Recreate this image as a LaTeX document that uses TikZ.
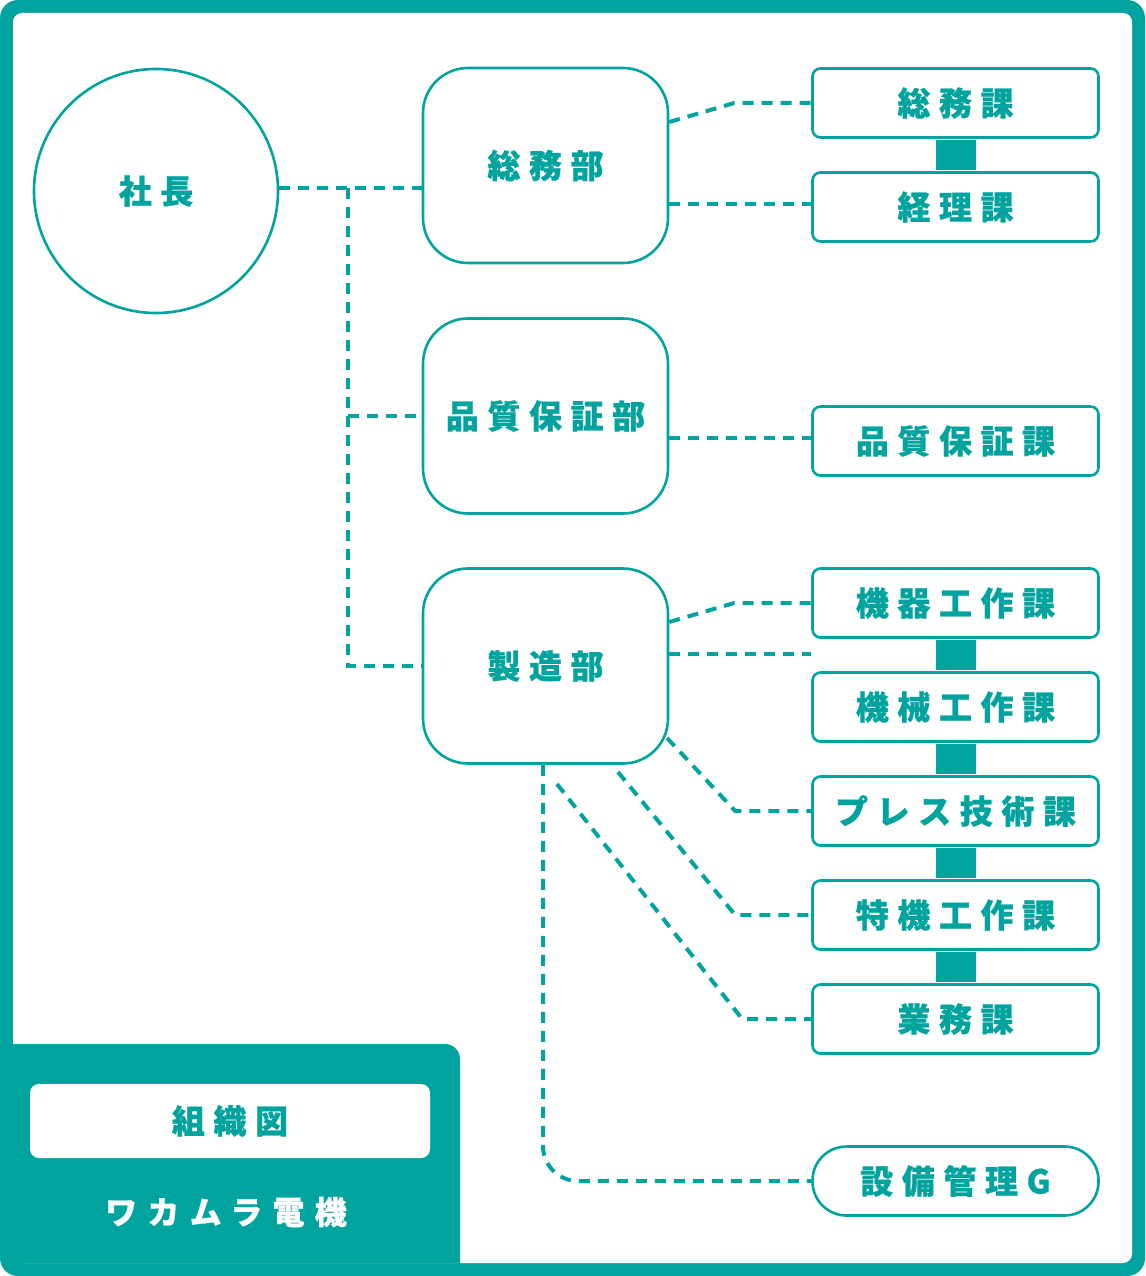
\documentclass[tikz,border=0pt]{standalone}
\usepackage{fontspec}
\newfontfamily\jp[LetterSpace=26, BoldFeatures={FakeBold=0.6}]{Noto Sans CJK JP}
\newfontfamily\jpw[LetterSpace=32, BoldFeatures={FakeBold=0.6}]{Noto Sans CJK JP}
\definecolor{tealc}{HTML}{00A39D}
\begin{document}
\begin{tikzpicture}[x=1pt,y=-1pt,
  lbl/.style={font=\jp\bfseries\fontsize{33}{33}\selectfont, text=tealc},
  circ/.style={circle, draw=tealc, line width=2.6pt, minimum size=244pt, fill=white, inner sep=0pt, lbl},
  dept/.style={rectangle, rounded corners=45pt, draw=tealc, line width=2.6pt, minimum width=245pt, minimum height=195pt, fill=white, inner sep=0pt, lbl},
  sect/.style={rectangle, rounded corners=8pt, draw=tealc, line width=2.6pt, minimum width=286pt, minimum height=69pt, fill=white, inner sep=0pt, lbl},
  pill/.style={rectangle, rounded corners=34pt, draw=tealc, line width=2.6pt, minimum width=286pt, minimum height=69pt, fill=white, inner sep=0pt, lbl},
  link/.style={draw=tealc, line width=4pt, dash pattern=on 11pt off 8pt},
  bar/.style={fill=tealc}
]
\useasboundingbox (0,0) rectangle (1145,1276);
% frame
\fill[tealc, rounded corners=18pt] (0,0) rectangle (1145,1276);
\fill[white, rounded corners=9pt] (13,13) rectangle (1132,1263);
% bottom-left tab
\fill[tealc] (13,1044) -- (445,1044) .. controls (453.3,1044) and (460,1050.7) .. (460,1059) -- (460,1263) -- (13,1263) -- cycle;
\node[fill=white, rounded corners=9pt, minimum width=400pt, minimum height=74pt, inner sep=0pt, lbl] (title) at (230,1121) {組織図};
\node[font=\jpw\bfseries\fontsize{32}{32}\selectfont, text=white] (company) at (226,1212) {ワカムラ電機};

\coordinate (t1) at (348,188);

% nodes
\node[circ] (pres) at (156,191) {社長};
\node[dept] (somu) at (545.5,165.5) {総務部};
\node[dept] (hin) at (545.5,416) {品質保証部};
\node[dept] (seizo) at (545.5,666) {製造部};

\node[sect] (somuka) at (955.5,103) {総務課};
\node[sect] (keiri) at (955.5,207) {経理課};
\node[sect] (hinka) at (955.5,441) {品質保証課};
\node[sect] (kiki) at (955.5,603) {機器工作課};
\node[sect] (kikai) at (955.5,707) {機械工作課};
\node[sect] (press) at (955.5,811) {プレス技術課};
\node[sect] (tokki) at (955.5,915) {特機工作課};
\node[sect] (gyomu) at (955.5,1019) {業務課};
\node[pill] (setsubi) at (955.5,1181) {設備管理G};

% bars between stacked sections
\fill[bar] ([xshift=-20pt,yshift=-1pt]somuka.south) rectangle ([xshift=20pt,yshift=1pt]keiri.north);
\fill[bar] ([xshift=-20pt,yshift=-1pt]kiki.south) rectangle ([xshift=20pt,yshift=1pt]kikai.north);
\fill[bar] ([xshift=-20pt,yshift=-1pt]kikai.south) rectangle ([xshift=20pt,yshift=1pt]press.north);
\fill[bar] ([xshift=-20pt,yshift=-1pt]press.south) rectangle ([xshift=20pt,yshift=1pt]tokki.north);
\fill[bar] ([xshift=-20pt,yshift=-1pt]tokki.south) rectangle ([xshift=20pt,yshift=1pt]gyomu.north);

% connectors
\draw[link] (pres.east |- t1) -- (somu.west |- t1);
\draw[link] (t1) |- (seizo.west);
\draw[link] (t1 |- hin.west) -- (hin.west);
\draw[link] ([yshift=43.5pt]somu.east) -- ([xshift=-77pt]somuka.west) -- (somuka.west);
\draw[link] (somu.east |- 0,204) -- (keiri.west |- 0,204);
\draw[link] (hin.east |- 0,438) -- (hinka.west |- 0,438);
\draw[link] ([yshift=44pt]seizo.east) -- ([xshift=-77pt]kiki.west) -- (kiki.west);
\draw[link] ([yshift=12pt]seizo.east) -- ([yshift=12pt]seizo.east -| kikai.west);
\draw[link] ([shift={(121.5pt,-72pt)}]seizo.center) -- ([xshift=-76pt]press.west) -- (press.west);
\draw[link] ([shift={(72.5pt,-106pt)}]seizo.center) -- ([xshift=-76pt]tokki.west) -- (tokki.west);
\draw[link] ([shift={(11.5pt,-118pt)}]seizo.center) -- ([xshift=-69pt]gyomu.west) -- (gyomu.west);
\draw[link, rounded corners=35pt] ([xshift=-2.5pt]seizo.south) |- (setsubi.west);
\end{tikzpicture}
\end{document}
